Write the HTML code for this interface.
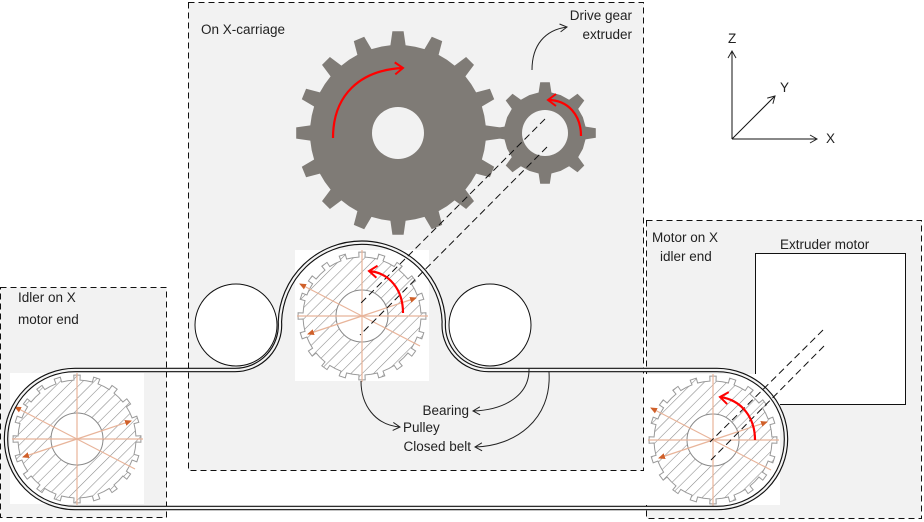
<!DOCTYPE html>
<html><head><meta charset="utf-8"><style>
html,body{margin:0;padding:0;background:#fff;}
svg{display:block;}
text{font-family:"Liberation Sans",sans-serif;font-size:13.5px;fill:#222;}
</style></head><body>
<svg id="s" width="924" height="522" viewBox="0 0 924 522" xmlns="http://www.w3.org/2000/svg">
<defs>
<pattern id="hatch" patternUnits="userSpaceOnUse" width="8" height="8" patternTransform="rotate(45)">
<rect width="8" height="8" fill="#fff"/>
<line x1="0" y1="0" x2="0" y2="8" stroke="#888" stroke-width="1.1"/>
</pattern>
<marker id="ah" markerWidth="10" markerHeight="10" refX="8" refY="5" orient="auto" markerUnits="userSpaceOnUse">
<path d="M1,1 L8,5 L1,9" fill="none" stroke="#222" stroke-width="1"/></marker>
<marker id="rh" markerWidth="14" markerHeight="14" refX="10" refY="7" orient="auto" markerUnits="userSpaceOnUse">
<path d="M2,1 L10,7 L2,13" fill="none" stroke="#f00" stroke-width="2"/></marker>
<marker id="oh" markerWidth="8" markerHeight="8" refX="6" refY="4" orient="auto" markerUnits="userSpaceOnUse">
<path d="M0,1 L7,4 L0,7 Z" fill="#d0602a"/></marker>
</defs>
<rect x="188.5" y="2.5" width="455" height="468" fill="#f2f2f2" stroke="#111" stroke-dasharray="6,4"/>
<rect x="0.5" y="287.5" width="166" height="230" fill="#f2f2f2" stroke="#111" stroke-dasharray="6,4"/>
<rect x="646.5" y="220.5" width="275" height="298" fill="#f2f2f2" stroke="#111" stroke-dasharray="6,4"/>
<text x="201" y="34">On X-carriage</text>
<text x="632" y="20" text-anchor="end">Drive gear</text>
<text x="632" y="39" text-anchor="end">extruder</text>
<text x="18" y="302">Idler on X</text>
<text x="18" y="324">motor end</text>
<text x="652" y="242">Motor on X</text>
<text x="660" y="261">idler end</text>
<text x="780" y="249">Extruder motor</text>
<rect x="755.5" y="253.5" width="150" height="151" fill="#fff" stroke="#111"/>
<g stroke="#111" stroke-width="1" fill="none">
<line x1="732" y1="139" x2="732" y2="51" marker-end="url(#ah)"/>
<line x1="732" y1="139" x2="817" y2="139" marker-end="url(#ah)"/>
<line x1="732" y1="139" x2="775" y2="96" marker-end="url(#ah)"/>
</g>
<text x="728" y="43">Z</text><text x="780" y="92">Y</text><text x="826" y="143">X</text>
<g id="gears"></g>
<circle cx="236" cy="325" r="41" fill="#fff" stroke="#111"/>
<circle cx="490" cy="325" r="41" fill="#fff" stroke="#111"/>
<g id="pulleys"></g>
<path d="M75,370 L235,370 A45,45 0 0 0 279.9,321.8 A82,82 0 0 1 443.8,321.8 A45,45 0 0 0 489,370 L717,370 A69,69 0 0 1 717,508 L75,508 A69,69 0 0 1 75,370 Z" fill="none" stroke="#111" stroke-width="4.5"/>
<path d="M75,370 L235,370 A45,45 0 0 0 279.9,321.8 A82,82 0 0 1 443.8,321.8 A45,45 0 0 0 489,370 L717,370 A69,69 0 0 1 717,508 L75,508 A69,69 0 0 1 75,370 Z" fill="none" stroke="#f4f4f4" stroke-width="2.2"/>
<g stroke="#111" stroke-dasharray="7,4" fill="none">
<line x1="545" y1="119" x2="360" y2="304"/>
<line x1="547" y1="147" x2="360" y2="335"/>
<line x1="823" y1="330" x2="710" y2="442"/>
<line x1="824" y1="346" x2="711" y2="460"/>
</g>
<g stroke="#f00" stroke-width="2.2" fill="none">
<path d="M333,138 C333,95 360,70 403,68" marker-end="url(#rh)"/>
<path d="M581,136 C581,115 568,100 548,100" marker-end="url(#rh)"/>
<path d="M403,313 C403,290 390,273 369,271" marker-end="url(#rh)"/>
<path d="M755,440 C755,418 742,400 720,397" marker-end="url(#rh)"/>
</g>
<g stroke="#222" stroke-width="1" fill="none">
<path d="M532,70 C532,45 545,30 567,27" marker-end="url(#ah)"/>
<path d="M361,381 C361,405 375,425 400,427" marker-end="url(#ah)"/>
<path d="M529,368 C530,395 505,410 473,411" marker-end="url(#ah)"/>
<path d="M549,372 C552,420 515,446 475,447" marker-end="url(#ah)"/>
</g>
<text x="469" y="415" text-anchor="end">Bearing</text>
<text x="403" y="432">Pulley</text>
<text x="471" y="451" text-anchor="end">Closed belt</text>
</svg>
<script>
var NS="http://www.w3.org/2000/svg";
function gearPath(cx,cy,r1,r2,n,tw,bw){
 var d="",step=2*Math.PI/n;
 for(var i=0;i<n;i++){
  var a=i*step-Math.PI/2;
  var pts=[[r1,a-step*bw],[r2,a-step*tw],[r2,a+step*tw],[r1,a+step*bw],[r1,a+step*0.5]];
  pts.forEach(function(p,j){var x=cx+p[0]*Math.cos(p[1]),y=cy+p[0]*Math.sin(p[1]);d+=(i==0&&j==0?"M":"L")+x.toFixed(1)+","+y.toFixed(1);});
 }
 return d+"Z";
}
var g=document.getElementById("gears");
function add(par,tag,attrs){var e=document.createElementNS(NS,tag);for(var k in attrs)e.setAttribute(k,attrs[k]);par.appendChild(e);return e;}
add(g,"path",{d:gearPath(398,133,88,102,16,0.14,0.22),fill:"#7f7b76"});
add(g,"circle",{cx:398,cy:133,r:26,fill:"#f2f2f2"});
add(g,"path",{d:gearPath(545,133,41,51,8,0.12,0.2),fill:"#7f7b76"});
add(g,"circle",{cx:545,cy:133,r:23,fill:"#f2f2f2"});
var pg=document.getElementById("pulleys");
[[77,439],[362,316],[713,440]].forEach(function(c){
 var cx=c[0],cy=c[1];
 var gg=add(pg,"g",{});
 add(gg,"rect",{x:cx-67,y:cy-66,width:134,height:131,fill:"#fff"});
 add(gg,"path",{d:gearPath(cx,cy,59,64,20,0.16,0.16),fill:"url(#hatch)",stroke:"#999","stroke-width":1});
 add(gg,"circle",{cx:cx,cy:cy,r:26,fill:"#fff",stroke:"#888","stroke-width":1});
 var o={stroke:"#e8b49a","stroke-width":1.2};
 add(gg,"line",Object.assign({x1:cx-65,y1:cy,x2:cx+66,y2:cy},o));
 add(gg,"line",Object.assign({x1:cx,y1:cy-66,x2:cx,y2:cy+66},o));
 add(gg,"line",Object.assign({x1:cx+58,y1:cy+30,x2:cx-62,y2:cy-32,"marker-end":"url(#oh)"},o));
 add(gg,"line",Object.assign({x1:cx,y1:cy,x2:cx+54,y2:cy-18,"marker-end":"url(#oh)"},o));
 add(gg,"line",Object.assign({x1:cx,y1:cy,x2:cx-54,y2:cy+18,"marker-end":"url(#oh)"},o));
});
</script>
</body></html>
